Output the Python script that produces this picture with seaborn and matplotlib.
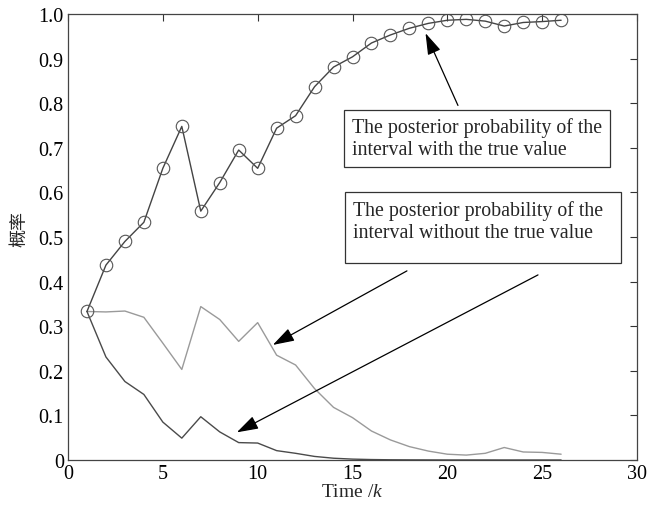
import matplotlib
matplotlib.use("Agg")
import matplotlib.pyplot as plt
from matplotlib.patches import Rectangle
import seaborn as sns
import numpy as np

time_k = list(range(1, 27))
p_with_true = [0.333, 0.437, 0.490, 0.533, 0.654, 0.748, 0.558, 0.622, 0.695, 0.654,
               0.744, 0.772, 0.837, 0.881, 0.904, 0.935, 0.953, 0.968, 0.979, 0.986,
               0.988, 0.984, 0.973, 0.981, 0.983, 0.986]
p_without_a = [0.333, 0.332, 0.334, 0.320, 0.262, 0.203, 0.344, 0.315, 0.266, 0.308,
               0.235, 0.213, 0.160, 0.118, 0.095, 0.065, 0.045, 0.030, 0.020, 0.013,
               0.011, 0.015, 0.028, 0.018, 0.017, 0.013]
p_without_b = [0.333, 0.231, 0.176, 0.147, 0.085, 0.049, 0.097, 0.063, 0.039, 0.038,
               0.021, 0.015, 0.008, 0.004, 0.002, 0.001, 0.0005, 0.0003, 0.0002, 0.0001,
               0.0001, 0.0001, 0.0, 0.0, 0.0, 0.0]
x_ticks = [0, 5, 10, 15, 20, 25, 30]
y_ticks = [0, 0.1, 0.2, 0.3, 0.4, 0.5, 0.6, 0.7, 0.8, 0.9, 1.0]
y_tick_labels = ["0", "0.1", "0.2", "0.3", "0.4", "0.5", "0.6", "0.7", "0.8", "0.9", "1.0"]
label_with = "The posterior probability of the\ninterval with the true value"
label_without = "The posterior probability of the\ninterval without the true value"

sns.set_theme(style="white")
plt.rcParams["font.family"] = ["Liberation Serif", "Noto Sans CJK SC"]
plt.rcParams["mathtext.fontset"] = "custom"
plt.rcParams["mathtext.rm"] = "Liberation Serif"
plt.rcParams["mathtext.it"] = "Liberation Serif:italic"

fig = plt.figure(figsize=(6.6, 5.06), dpi=100)
ax = fig.add_axes([68 / 660, 1 - 461 / 506, (637 - 68) / 660, (461 - 15) / 506])

sns.lineplot(x=time_k, y=p_without_a, ax=ax, color="#9a9a9a", linewidth=1.0)
sns.lineplot(x=time_k, y=p_without_b, ax=ax, color="#4a4a4a", linewidth=1.0)
sns.lineplot(x=time_k, y=p_with_true, ax=ax, color="#444444", linewidth=1.0,
             marker="o", markersize=9, markerfacecolor="none",
             markeredgecolor="#555555", markeredgewidth=0.8)

ax.set_xlim(0, 30)
ax.set_ylim(0, 1.0)
ax.set_xticks(x_ticks)
ax.set_xticklabels([str(t) for t in x_ticks])
ax.set_yticks(y_ticks)
ax.set_yticklabels(y_tick_labels)
ax.tick_params(direction="in", length=5, width=0.8, color="#333333",
               top=True, right=True, labelsize=14.5, pad=3, labelcolor="black")
for s in ax.spines.values():
    s.set_visible(True)
    s.set_color("#444444")
    s.set_linewidth(0.9)

ax.set_xlabel("Time /$k$", fontsize=14, labelpad=0)
ax.set_ylabel("概率", fontsize=13, family=["Noto Sans CJK SC"], labelpad=6)
ax.yaxis.set_label_coords(-0.07, 0.52)

arrow_kw = dict(arrowstyle="-|>,head_length=1.1,head_width=0.35", color="black",
                linewidth=0.9, shrinkA=0, shrinkB=0)

box = dict(boxstyle="square,pad=0.4", facecolor="white", edgecolor="#333333", linewidth=0.9)
ax.text(14.95, 0.768, label_with, fontsize=14.3, va="top", ha="left", bbox=box,
        linespacing=1.2, zorder=5)

ax.add_patch(Rectangle((14.6, 0.4417), 14.55, 0.159, facecolor="white",
                       edgecolor="#333333", linewidth=0.9, zorder=4))
ax.text(15.05, 0.583, label_without, fontsize=14.3, va="top", ha="left",
        linespacing=1.2, zorder=5)

ax.annotate("", xy=(18.85, 0.957), xytext=(20.56, 0.795), arrowprops=arrow_kw)
ax.annotate("", xy=(10.8, 0.258), xytext=(17.87, 0.424), arrowprops=arrow_kw)
ax.annotate("", xy=(8.9, 0.062), xytext=(24.78, 0.415), arrowprops=arrow_kw)

fig.savefig("out.png", dpi=100)
